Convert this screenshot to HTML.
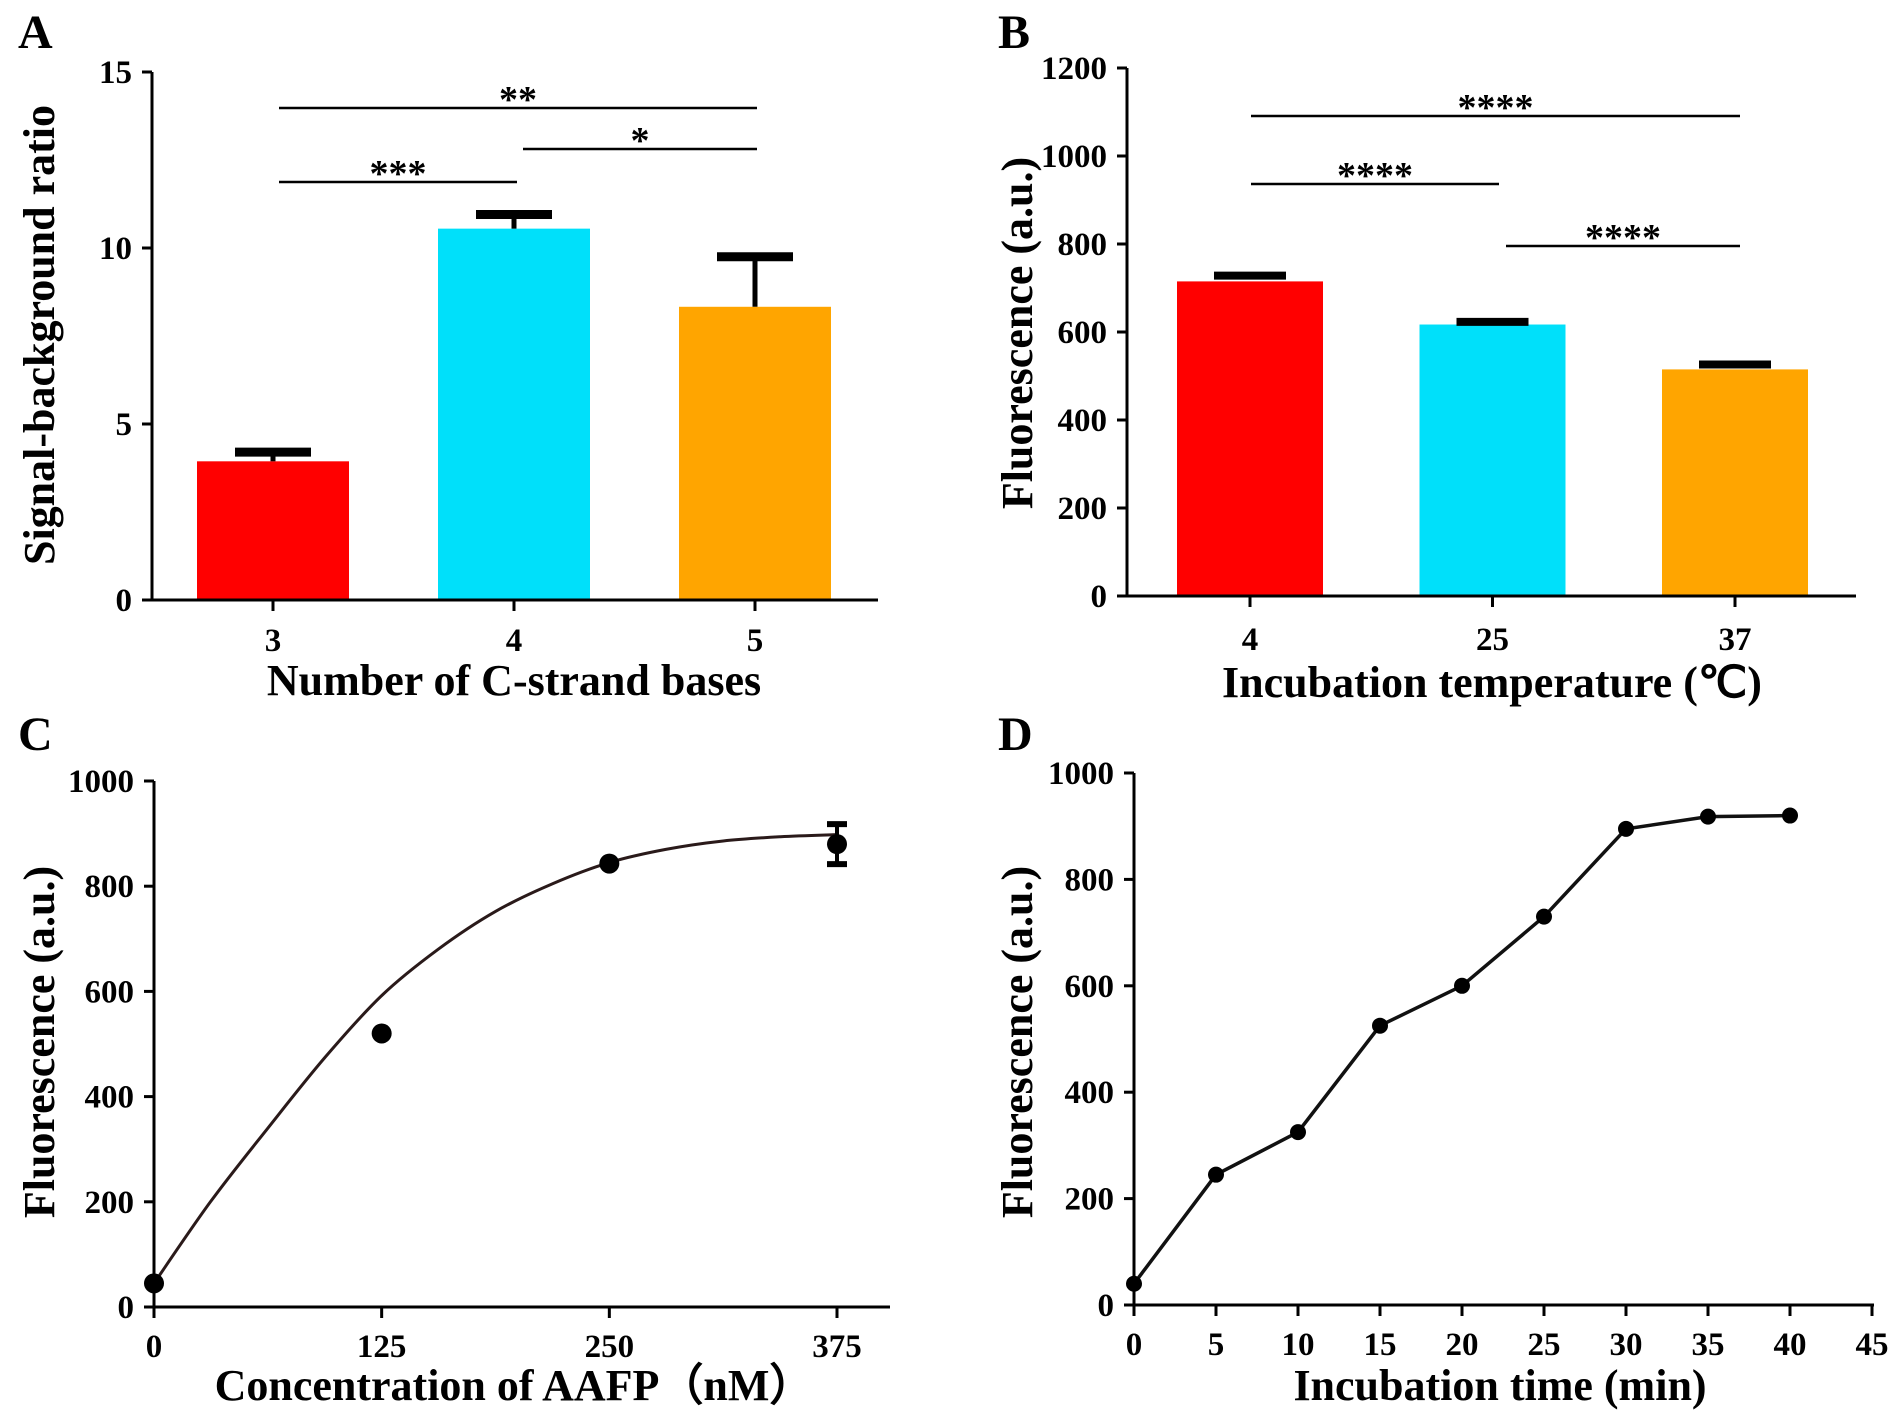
<!DOCTYPE html>
<html><head><meta charset="utf-8"><style>
html,body{margin:0;padding:0;background:#fff;overflow:hidden;}
svg{display:block;font-family:"Liberation Serif",serif;font-weight:bold;}
</style></head><body>
<svg id="fig" width="1890" height="1416" viewBox="0 0 1890 1416"></svg>
<script>
const aCats=["3","4","5"];
const aVals=[3.94,10.55,8.33];
const aErr=[0.26,0.4,1.42];
const aTicks=[0,5,10,15];
const bCats=["4","25","37"];
const bVals=[715,617,515];
const bErr=[13,6,11];
const bTicks=[0,200,400,600,800,1000,1200];
const cX=[0,125,250,375];
const cY=[45,520,843,880];
const cErr=[0,0,0,38];
const cCurveX=[0,31,62.5,94,125,156,187.5,219,250,281,312.5,344,375];
const cCurveY=[45,200,340,475,592,680,752,805,845,870,886,894,898];
const cTicksX=[0,125,250,375];
const cTicksY=[0,200,400,600,800,1000];
const dX=[0,5,10,15,20,25,30,35,40];
const dY=[40,245,325,525,600,730,895,918,920];
const dTicksX=[0,5,10,15,20,25,30,35,40,45];
const dTicksY=[0,200,400,600,800,1000];
const colors=["#ff0000","#00e0fa","#ffa500"];

const svg=document.getElementById('fig');
const NS="http://www.w3.org/2000/svg";
function mk(tag,attrs,parent){const e=document.createElementNS(NS,tag);for(const k in attrs)e.setAttribute(k,attrs[k]);(parent||svg).appendChild(e);return e;}
function txt(s,x,y,size,anchor,parent,rot){const t=mk('text',{x:x,y:y,'font-size':size,'text-anchor':anchor||'middle'},parent);if(rot)t.setAttribute('transform',`rotate(-90 ${x} ${y})`);t.textContent=s;return t;}

function axes(g,x0,x1,y0,y1){const a=mk('line',{x1:x0,y1:y0,x2:x0,y2:y1,stroke:'#000','stroke-width':3},g);

const b=mk('line',{x1:x0,y1:y0,x2:x1,y2:y0,stroke:'#000','stroke-width':3},g);
}
function yTicks(g,ticks,x0,sy){ticks.forEach(v=>{const y=sy(v);mk('line',{x1:x0-10,y1:y,x2:x0,y2:y,stroke:'#000','stroke-width':3},g);
const t=txt(String(v),x0-20,y+11,33,'end',g);});}
function xTicks(g,ticks,labels,sx,y0,ly){ticks.forEach((v,i)=>{const x=sx(v);mk('line',{x1:x,y1:y0,x2:x,y2:y0+11,stroke:'#000','stroke-width':3},g);
const t=txt(labels[i],x,ly,33,'middle',g);});}
function sig(g,x1,x2,y,label){mk('line',{x1:x1,y1:y,x2:x2,y2:y,stroke:'#000','stroke-width':2.5},g);
const t=txt(label,(x1+x2)/2,y+4,38,'middle',g);}
function panelLetter(s,x,y){const t=txt(s,x,y,48,'start');}

// Panel A
(function(){const g=mk('g',{});
const x0=152,x1=878,y0=600,yTop=72;const sy=v=>y0-(v/15)*(y0-yTop);
const centers=[273,514,755];const sx=i=>centers[0]+i*(centers[2]-centers[0])/2;const bw=152;
aVals.forEach((v,i)=>{const r=mk('rect',{x:sx(i)-bw/2,y:sy(v),width:bw,height:y0-sy(v),fill:colors[i]},g);

mk('line',{x1:sx(i),y1:sy(v),x2:sx(i),y2:sy(v+aErr[i]),stroke:'#000','stroke-width':5},g);
const c=mk('line',{x1:sx(i)-38,y1:sy(v+aErr[i]),x2:sx(i)+38,y2:sy(v+aErr[i]),stroke:'#000','stroke-width':9},g);
});
axes(g,x0,x1,y0,yTop);yTicks(g,aTicks,x0,sy);
xTicks(g,[0,1,2],aCats,sx,y0,651);
sig(g,279,757,108,'**');sig(g,523,757,149,'*');sig(g,279,517,182,'***');
const yt=txt('Signal-background ratio',54,335,44,'middle',g,true);
const xt=txt('Number of C-strand  bases',514,695,44,'middle',g);})();
panelLetter('A',18,48);

// Panel B
(function(){const g=mk('g',{});
const x0=1127,x1=1856,y0=596,yTop=68;const sy=v=>y0-(v/1200)*(y0-yTop);
const centers=[1250,1492,1735];const sx=i=>centers[0]+i*(centers[2]-centers[0])/2;const bw=146;
bVals.forEach((v,i)=>{const r=mk('rect',{x:sx(i)-bw/2,y:sy(v),width:bw,height:y0-sy(v),fill:colors[i]},g);

const c=mk('line',{x1:sx(i)-36,y1:sy(v+bErr[i]),x2:sx(i)+36,y2:sy(v+bErr[i]),stroke:'#000','stroke-width':8},g);
});
axes(g,x0,x1,y0,yTop);yTicks(g,bTicks,x0,sy);
xTicks(g,[0,1,2],bCats,sx,y0,650);
sig(g,1251,1740,116,'****');sig(g,1251,1499,184,'****');sig(g,1506,1740,246,'****');
const yt=txt('Fluorescence (a.u.)',1032,333,44,'middle',g,true);
const xt=txt('Incubation temperature (\u2103)',1492,697,44,'middle',g);})();
panelLetter('B',998,48);

// Panel C
(function(){const g=mk('g',{});
const x0=154,x1=890,y0=1307,yTop=781;const sy=v=>y0-(v/1000)*(y0-yTop);const sx=v=>x0+(v/375)*(837-x0);
axes(g,x0,x1,y0,yTop);yTicks(g,cTicksY,x0,sy);xTicks(g,cTicksX,cTicksX.map(String),sx,y0,1357);
const pts=cCurveX.map((x,i)=>[sx(x),sy(cCurveY[i])]);
let d='M'+pts[0][0]+','+pts[0][1];
for(let i=0;i<pts.length-1;i++){const p0=pts[Math.max(0,i-1)],p1=pts[i],p2=pts[i+1],p3=pts[Math.min(pts.length-1,i+2)];
d+=` C${p1[0]+(p2[0]-p0[0])/6},${p1[1]+(p2[1]-p0[1])/6} ${p2[0]-(p3[0]-p1[0])/6},${p2[1]-(p3[1]-p1[1])/6} ${p2[0]},${p2[1]}`;}
const c=mk('path',{d:d,fill:'none',stroke:'#2a1a1a','stroke-width':3},g);
cX.forEach((x,i)=>{if(cErr[i]>0){mk('line',{x1:sx(x),y1:sy(cY[i]-cErr[i]),x2:sx(x),y2:sy(cY[i]+cErr[i]),stroke:'#000','stroke-width':4},g);
[cY[i]-cErr[i],cY[i]+cErr[i]].forEach(v=>mk('line',{x1:sx(x)-10,y1:sy(v),x2:sx(x)+10,y2:sy(v),stroke:'#000','stroke-width':6},g));}
const p=mk('circle',{cx:sx(x),cy:sy(cY[i]),r:10,fill:'#000'},g);});
const yt=txt('Fluorescence (a.u.)',54,1042,44,'middle',g,true);
const xt=txt('Concentration of AAFP\uff08nM\uff09',514,1400,44,'middle',g);})();
panelLetter('C',18,750);

// Panel D
(function(){const g=mk('g',{});
const x0=1134,x1=1874,y0=1305,yTop=773;const sy=v=>y0-(v/1000)*(y0-yTop);const sx=v=>x0+(v/45)*(1872-x0);
axes(g,x0,x1,y0,yTop);yTicks(g,dTicksY,x0,sy);xTicks(g,dTicksX,dTicksX.map(String),sx,y0,1355);
const l=mk('polyline',{points:dX.map((x,i)=>sx(x)+','+sy(dY[i])).join(' '),fill:'none',stroke:'#111','stroke-width':3.5},g);

dX.forEach((x,i)=>{const p=mk('circle',{cx:sx(x),cy:sy(dY[i]),r:8,fill:'#000'},g);});
const yt=txt('Fluorescence (a.u.)',1032,1042,44,'middle',g,true);
const xt=txt('Incubation time (min)',1500,1400,44,'middle',g);})();
panelLetter('D',998,750);
</script>
</body></html>
